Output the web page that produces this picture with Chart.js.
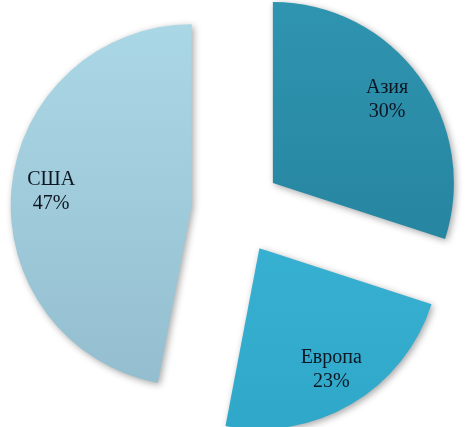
<!DOCTYPE html>
<html><head><meta charset="utf-8">
<script src="https://cdn.jsdelivr.net/npm/chart.js@4/dist/chart.umd.min.js"></script>
<style>html,body{margin:0;padding:0;background:#fff}#w{width:465px;height:427px}</style>
</head><body><div id="w"><canvas id="c"></canvas></div>
<script>
const categories = ['Азия', 'Европа', 'США'];
const values = [30, 23, 47];
const colorsTop = ['#3096b2', '#3fbadb', '#acd9e8'];
const colorsBottom = ['#217c96', '#2ea6c8', '#92bccd'];
const explode = 45;

function grad(ctx, i) {
  const chart = ctx.chart;
  const a = chart.chartArea;
  if (!a) return colorsTop[i];
  const g = chart.ctx.createLinearGradient(0, a.top, 0, a.bottom);
  g.addColorStop(0, colorsTop[i]);
  g.addColorStop(1, colorsBottom[i]);
  return g;
}

// draw each slice pulled out along its bisector, with a soft shadow
const explodePlugin = {
  id: 'explode',
  beforeDatasetDraw(chart, args) {
    const c = chart.ctx;
    const meta = chart.getDatasetMeta(args.index);
    meta.data.forEach((arc) => {
      const p = arc.getProps(['startAngle', 'endAngle'], true);
      const mid = (p.startAngle + p.endAngle) / 2;
      c.save();
      c.shadowColor = 'rgba(0,0,0,0.35)';
      c.shadowBlur = 7;
      c.shadowOffsetX = 2;
      c.shadowOffsetY = 2;
      c.translate(Math.cos(mid) * explode, Math.sin(mid) * explode);
      arc.draw(c);
      c.restore();
    });
    return false;
  }
};

const labelPlugin = {
  id: 'sliceLabels',
  afterDatasetsDraw(chart) {
    const c = chart.ctx;
    const meta = chart.getDatasetMeta(0);
    const total = values.reduce((s, v) => s + v, 0);
    c.save();
    c.font = '20px "Liberation Serif", "Times New Roman", serif';
    c.fillStyle = '#0d1622';
    c.textAlign = 'center';
    c.textBaseline = 'middle';
    meta.data.forEach((arc, i) => {
      const p = arc.getProps(['x', 'y', 'startAngle', 'endAngle', 'outerRadius'], true);
      const mid = (p.startAngle + p.endAngle) / 2;
      const r = p.outerRadius * 0.78 + explode;
      const x = p.x + Math.cos(mid) * r;
      const y = p.y + Math.sin(mid) * r;
      c.fillText(categories[i], x, y - 12);
      c.fillText(Math.round(values[i] / total * 100) + '%', x, y + 12);
    });
    c.restore();
  }
};

new Chart(document.getElementById('c'), {
  type: 'pie',
  data: {
    labels: categories,
    datasets: [{
      data: values,
      backgroundColor: (ctx) => grad(ctx, ctx.dataIndex),
      borderWidth: 0,
      radius: 181
    }]
  },
  options: {
    responsive: true,
    maintainAspectRatio: false,
    animation: false,
    layout: { padding: { left: 8, bottom: 8 } },
    plugins: { legend: { display: false }, tooltip: { enabled: false } }
  },
  plugins: [explodePlugin, labelPlugin]
});
</script>
</body></html>
